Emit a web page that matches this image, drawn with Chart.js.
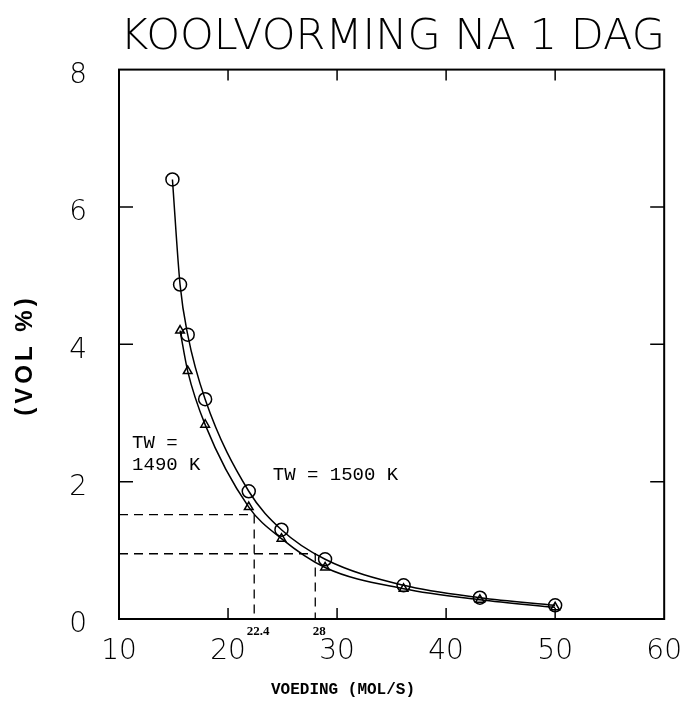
<!DOCTYPE html>
<html>
<head>
<meta charset="utf-8">
<script src="https://cdn.jsdelivr.net/npm/chart.js@4/dist/chart.umd.min.js"></script>
<style>
html, body { margin: 0; padding: 0; background: #fff; }
</style>
</head>
<body>
<canvas id="myChart" width="690" height="703"></canvas>
<script>
// feed rate (mol/s) and coke formation (vol %)
const feed1500 = [14.9, 15.6, 16.3, 17.9, 21.9, 24.9, 28.9, 36.1, 43.1, 50.0];
const vol1500 = [6.4, 4.87, 4.14, 3.2, 1.86, 1.30, 0.87, 0.49, 0.31, 0.2];
const feed1490 = [15.6, 16.3, 17.9, 21.9, 24.9, 28.9, 36.1, 43.1, 50.0];
const vol1490 = [4.2, 3.61, 2.83, 1.63, 1.17, 0.75, 0.44, 0.28, 0.17];

// dashed read-off lines
const refFeed = [22.4, 28];
const refVol = [1.52, 0.95];

const xTicks = [10, 20, 30, 40, 50, 60];
const yTicks = [0, 2, 4, 6, 8];
const innerX = [20, 30, 40, 50];
const innerY = [2, 4, 6];

const toPoints = (xs, ys) => xs.map((v, i) => ({x: v, y: ys[i]}));

const refSets = refFeed.map((f, i) => ({
    data: [{x: 10, y: refVol[i]}, {x: f, y: refVol[i]}, {x: f, y: 0}],
    showLine: true,
    borderColor: '#000',
    borderWidth: 1.3,
    borderDash: [9, 6],
    pointRadius: 0,
    tension: 0
}));

const framePlugin = {
    id: 'frame',
    afterDatasetsDraw(chart) {
        const {ctx, chartArea: a, scales: {x, y}} = chart;
        ctx.save();
        ctx.strokeStyle = '#000';
        ctx.lineWidth = 2;
        ctx.strokeRect(a.left, a.top, a.right - a.left, a.bottom - a.top);

        ctx.lineWidth = 1.5;
        ctx.beginPath();
        innerX.forEach(v => {
            const px = x.getPixelForValue(v);
            ctx.moveTo(px, a.bottom); ctx.lineTo(px, a.bottom - 11);
            ctx.moveTo(px, a.top); ctx.lineTo(px, a.top + 11);
        });
        innerY.forEach(v => {
            const py = y.getPixelForValue(v);
            ctx.moveTo(a.left, py); ctx.lineTo(a.left + 14, py);
            ctx.moveTo(a.right, py); ctx.lineTo(a.right - 14, py);
        });
        ctx.stroke();

        ctx.fillStyle = '#000';
        // small labels under the dashed lines
        ctx.font = 'bold 13px "Liberation Serif"';
        ctx.textAlign = 'center';
        ctx.textBaseline = 'top';
        refFeed.forEach(f => ctx.fillText(String(f), x.getPixelForValue(f) + 4, a.bottom + 6));

        // curve notes
        ctx.font = '19px "Liberation Mono"';
        ctx.textAlign = 'left';
        ctx.textBaseline = 'alphabetic';
        ctx.fillText('TW =', x.getPixelForValue(11.2), y.getPixelForValue(2.49));
        ctx.fillText('1490 K', x.getPixelForValue(11.2), y.getPixelForValue(2.17));
        ctx.fillText('TW = 1500 K', x.getPixelForValue(24.1), y.getPixelForValue(2.03));

        // axis titles
        ctx.font = 'bold 16px "Liberation Mono"';
        ctx.textAlign = 'center';
        ctx.textBaseline = 'middle';
        ctx.fillText('VOEDING (MOL/S)', 343, 690);

        ctx.translate(25, 355);
        ctx.rotate(-Math.PI / 2);
        ctx.font = 'bold 24px "Liberation Sans"';
        ctx.letterSpacing = '4px';
        ctx.fillText('(VOL %)', 0, 0);
        ctx.restore();
    }
};

new Chart(document.getElementById('myChart'), {
    type: 'scatter',
    data: {
        datasets: [
            ...refSets,
            {
                label: 'TW = 1500 K',
                data: toPoints(feed1500, vol1500),
                showLine: true,
                cubicInterpolationMode: 'monotone',
                borderColor: '#000',
                borderWidth: 1.5,
                pointStyle: 'circle',
                pointRadius: 6.5,
                pointBorderWidth: 1.5,
                pointBackgroundColor: 'rgba(0,0,0,0)'
            },
            {
                label: 'TW = 1490 K',
                data: toPoints(feed1490, vol1490),
                showLine: true,
                cubicInterpolationMode: 'monotone',
                borderColor: '#000',
                borderWidth: 1.5,
                pointStyle: 'triangle',
                pointRadius: 5,
                pointBorderWidth: 1.5,
                pointBackgroundColor: 'rgba(0,0,0,0)'
            }
        ]
    },
    options: {
        responsive: false,
        animation: false,
        devicePixelRatio: 1,
        layout: {padding: {left: 0, right: 25, top: 0, bottom: 0}},
        scales: {
            x: {
                type: 'linear',
                min: 10,
                max: 60,
                afterBuildTicks: s => { s.ticks = xTicks.map(v => ({value: v})); },
                afterFit: s => { s.height = 84; },
                grid: {display: false},
                border: {display: false},
                ticks: {
                    color: '#000',
                    padding: 8,
                    font: {family: 'DejaVu Sans', size: 28, weight: 200}
                }
            },
            y: {
                type: 'linear',
                min: 0,
                max: 8,
                afterBuildTicks: s => { s.ticks = yTicks.map(v => ({value: v})); },
                afterFit: s => { s.width = 119; },
                grid: {display: false},
                border: {display: false},
                ticks: {
                    color: '#000',
                    padding: 24,
                    labelOffset: 6,
                    font: {family: 'DejaVu Sans', size: 28, weight: 200}
                }
            }
        },
        plugins: {
            legend: {display: false},
            tooltip: {enabled: false},
            title: {
                display: true,
                text: 'KOOLVORMING NA 1 DAG',
                align: 'end',
                color: '#000',
                font: {family: 'DejaVu Sans', size: 43, weight: 200},
                padding: {top: 12, bottom: 6}
            }
        }
    },
    plugins: [framePlugin]
});
</script>
</body>
</html>
